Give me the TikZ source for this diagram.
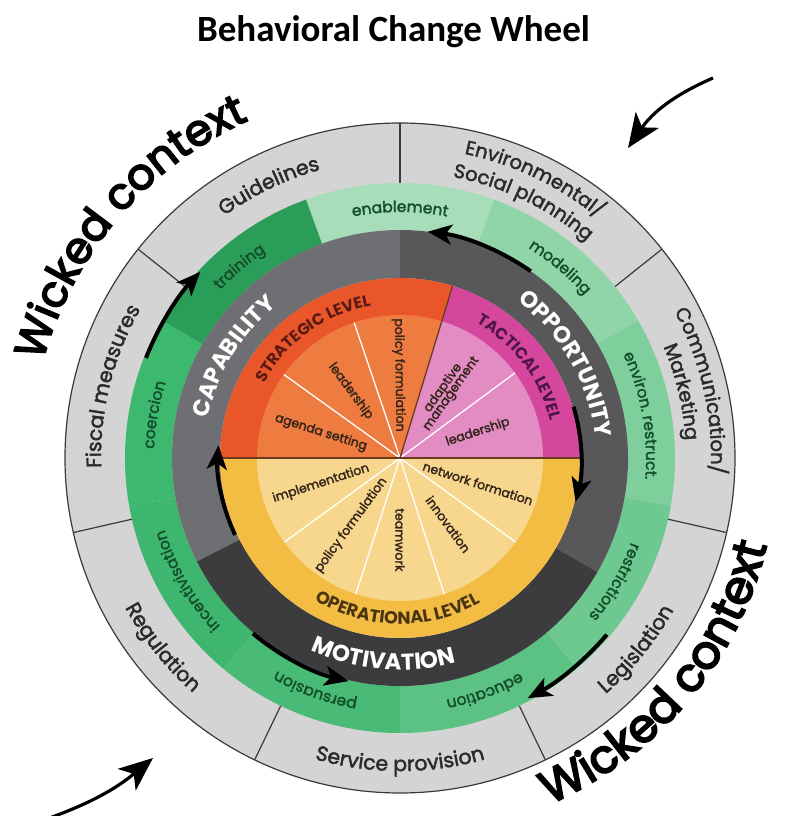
\documentclass[tikz,border=0pt]{standalone}
\usepackage{fontspec}
\setmainfont{Poppins}
\newfontfamily\headfont{Carlito}
\newfontfamily\ringfamily[FakeBold=2]{Poppins}
\newfontfamily\wickedfamily[FakeBold=4]{Poppins}
\usetikzlibrary{arrows.meta,decorations.text}

\definecolor{outergray}{HTML}{D4D4D5}
\definecolor{edgegray}{HTML}{3A3A3A}
\definecolor{labelgray}{HTML}{2A2A2A}
\definecolor{greentext}{HTML}{134F2B}
\definecolor{capgray}{HTML}{6E6F72}
\definecolor{oppgray}{HTML}{58585B}
\definecolor{motgray}{HTML}{3C3C3F}
\definecolor{stratband}{HTML}{E8562A}
\definecolor{stratfill}{HTML}{EE7B40}
\definecolor{tactband}{HTML}{D5469D}
\definecolor{tactfill}{HTML}{E38BC3}
\definecolor{operband}{HTML}{F3BC43}
\definecolor{operfill}{HTML}{F7D68D}
\definecolor{stratlab}{HTML}{5A1A12}
\definecolor{tactlab}{HTML}{4E1545}
\definecolor{operlab}{HTML}{4A3512}
\definecolor{piedark}{HTML}{6B3B1F}
\definecolor{pieink}{HTML}{33251A}
\definecolor{gEnab}{HTML}{A8DDBA}
\definecolor{gMod}{HTML}{90D5A8}
\definecolor{gEnv}{HTML}{7ECF9B}
\definecolor{gRes}{HTML}{6DC98F}
\definecolor{gEdu}{HTML}{5BC283}
\definecolor{gPer}{HTML}{49BB77}
\definecolor{gInc}{HTML}{3EB66F}
\definecolor{gCoe}{HTML}{3CB86F}
\definecolor{gTra}{HTML}{2A9D58}

% fonts used along the rings
\newcommand{\ringfont}{\ringfamily\fontsize{20.5}{24}\selectfont\color{labelgray}}
\newcommand{\twofont}{\ringfamily\fontsize{19.5}{22}\selectfont\color{labelgray}}
\newcommand{\greenfont}{\ringfamily\fontsize{15.5}{18}\selectfont\color{greentext}}
\newcommand{\sourcefont}{\bfseries\fontsize{23}{26}\selectfont\color{white}}
\newcommand{\levelfont}{\bfseries\fontsize{16}{18}\selectfont}
\newcommand{\wickedfont}{\wickedfamily\color{black}}

% filled piece of a ring: colour, inner radius, outer radius, from, to
\newcommand{\ringpiece}[5]{%
  \fill[#1] (#4:#3pt) arc[start angle=#4,end angle=#5,radius=#3pt]
    -- (#5:#2pt) arc[start angle=#5,end angle=#4,radius=#2pt] -- cycle;}
% text on an arc, tops outward: radius, centre angle, format, text
\newcommand{\cwlabel}[4]{%
  \path[decorate,decoration={text along path,text align=center,text={|#3|#4}}]
    (#2+60:#1pt) arc[start angle=#2+60,end angle=#2-60,radius=#1pt];}
% text on an arc, tops inward
\newcommand{\ccwlabel}[4]{%
  \path[decorate,decoration={text along path,text align=center,text={|#3|#4}}]
    (#2-60:#1pt) arc[start angle=#2-60,end angle=#2+60,radius=#1pt];}

\tikzset{
  edge/.style={draw=edgegray,line width=1.2pt},
  spoke/.style={white,line width=1.3pt},
  cut/.style={piedark,line width=1.3pt},
  pietext/.style={font=\ringfamily\fontsize{12.5}{13}\selectfont,text=pieink,inner sep=0pt,align=center},
  ringarrow/.style={line width=4pt,-{Stealth[length=24pt,width=20pt,inset=6pt]}},
  bigarrow/.style={line width=3.2pt,-{Stealth[length=34pt,width=28pt,inset=9pt]}}
}

\begin{document}
\begin{tikzpicture}[x=1pt,y=1pt]
\useasboundingbox (-400,-358) rectangle (388,458);
\fill[white] (-400,-358) rectangle (388,458);

% policy categories
\fill[outergray] (0,0) circle[radius=335pt];
\foreach \a in {90,38.57,-12.86,-64.29,-115.71,-167.14,141.43}
  \draw[edge] (\a:275pt) -- (\a:335pt);
\draw[edge] (0,0) circle[radius=335pt];

% intervention functions
\foreach \a/\c in {70/gEnab,30/gMod,-10/gEnv,-50/gRes,-90/gEdu,-130/gPer,190/gInc,150/gCoe,110/gTra}
  {\ringpiece{\c}{228}{275}{\a}{\a+40}}

% sources of behaviour
\ringpiece{capgray}{180}{228}{90}{207}
\ringpiece{oppgray}{180}{228}{-30}{90}
\ringpiece{motgray}{180}{228}{207}{330}

% levels
\fill[stratband] (0,0) -- (73:180pt) arc[start angle=73,end angle=180,radius=180pt] -- cycle;
\fill[tactband] (0,0) -- (0:180pt) arc[start angle=0,end angle=73,radius=180pt] -- cycle;
\fill[operband] (0,0) -- (180:180pt) arc[start angle=180,end angle=360,radius=180pt] -- cycle;
\fill[stratfill] (0,0) -- (73:143pt) arc[start angle=73,end angle=180,radius=143pt] -- cycle;
\fill[tactfill] (0,0) -- (0:143pt) arc[start angle=0,end angle=73,radius=143pt] -- cycle;
\fill[operfill] (0,0) -- (180:143pt) arc[start angle=180,end angle=360,radius=143pt] -- cycle;
\foreach \a in {108.7,144.3,36.5,216,252,288,324}
  \draw[spoke] (0,0) -- (\a:143pt);
\draw[cut] (180:180pt) -- (0:180pt);
\draw[cut] (0,0) -- (73:180pt);

% ring labels
\cwlabel{299}{115.7}{\ringfont}{Guidelines}
\cwlabel{311}{64.3}{\twofont}{Environmental/}
\cwlabel{286}{64.3}{\twofont}{Social planning}
\cwlabel{311}{12.6}{\twofont}{Communication/}
\cwlabel{286}{13.2}{\twofont}{Marketing}
\ccwlabel{313}{-39}{\ringfont}{Legislation}
\ccwlabel{313}{270}{\ringfont}{Service provision}
\ccwlabel{313}{218.6}{\ringfont}{Regulation}
\cwlabel{299}{166}{\ringfont}{Fiscal measures}

\foreach \a/\t in {90/enablement,50/modeling,10/environ. restruct.,-30/restrictions,
    -70/education,-110/persuasion,210/incentivisation,170/coercion,130/training}
  {\cwlabel{246}{\a}{\greenfont}{\t}}

\cwlabel{196}{148.6}{\sourcefont}{CAPABILITY}
\cwlabel{196}{29.6}{\sourcefont}{OPPORTUNITY}
\ccwlabel{212}{265.3}{\sourcefont}{MOTIVATION}

\cwlabel{155}{126}{\levelfont\color{stratlab}}{STRATEGIC LEVEL}
\cwlabel{155}{37.2}{\levelfont\color{tactlab}}{TACTICAL LEVEL}
\ccwlabel{166}{269}{\levelfont\fontsize{17.5}{19}\selectfont\color{operlab}}{OPERATIONAL LEVEL}

% sector texts
\foreach \a/\t [count=\i] in {162.2/agenda setting,126.5/leadership,90.8/policy formulation,
    198/implementation,234/policy formulation}
  \node[pietext,rotate=\a+180] (inL\i) at (\a:83pt) {\t};
\foreach \a/\t [count=\i] in {54.8/{adaptive\\[-3pt]management},18.3/leadership,
    270/teamwork,306/innovation,342/network formation}
  \node[pietext,rotate=\a] (inR\i) at (\a:82pt) {\t};

% cycle arrows
\draw[ringarrow] (158.5:273pt) arc[start angle=158.5,end angle=137,radius=273pt];
\draw[ringarrow] (55:228pt) arc[start angle=55,end angle=83,radius=228pt];
\draw[ringarrow] (16.5:181pt) arc[start angle=16.5,end angle=-14,radius=181pt];
\draw[ringarrow] (-40.5:272pt) arc[start angle=-40.5,end angle=-62,radius=272pt];
\draw[ringarrow] (230:229pt) arc[start angle=230,end angle=257,radius=229pt];
\draw[ringarrow] (205:182pt) arc[start angle=205,end angle=176,radius=182pt];

% context
\cwlabel{370}{139.5}{\wickedfont\fontsize{43}{48}\selectfont}{Wicked context}
\ccwlabel{377}{-40}{\wickedfont\fontsize{46}{52}\selectfont}{Wicked context}
\coordinate (trs) at (313,380);
\coordinate (trt) at (228,310);
\coordinate (bls) at (-356,-362);
\coordinate (blt) at (-247,-300);
\draw[bigarrow] (trs) to[bend right=16] (trt);
\draw[bigarrow] (bls) to[bend right=10] (blt);

\node[font=\headfont\bfseries\fontsize{37}{40}\selectfont,anchor=base] (title) at (-6.5,416) {Behavioral Change Wheel};
\end{tikzpicture}
\end{document}
